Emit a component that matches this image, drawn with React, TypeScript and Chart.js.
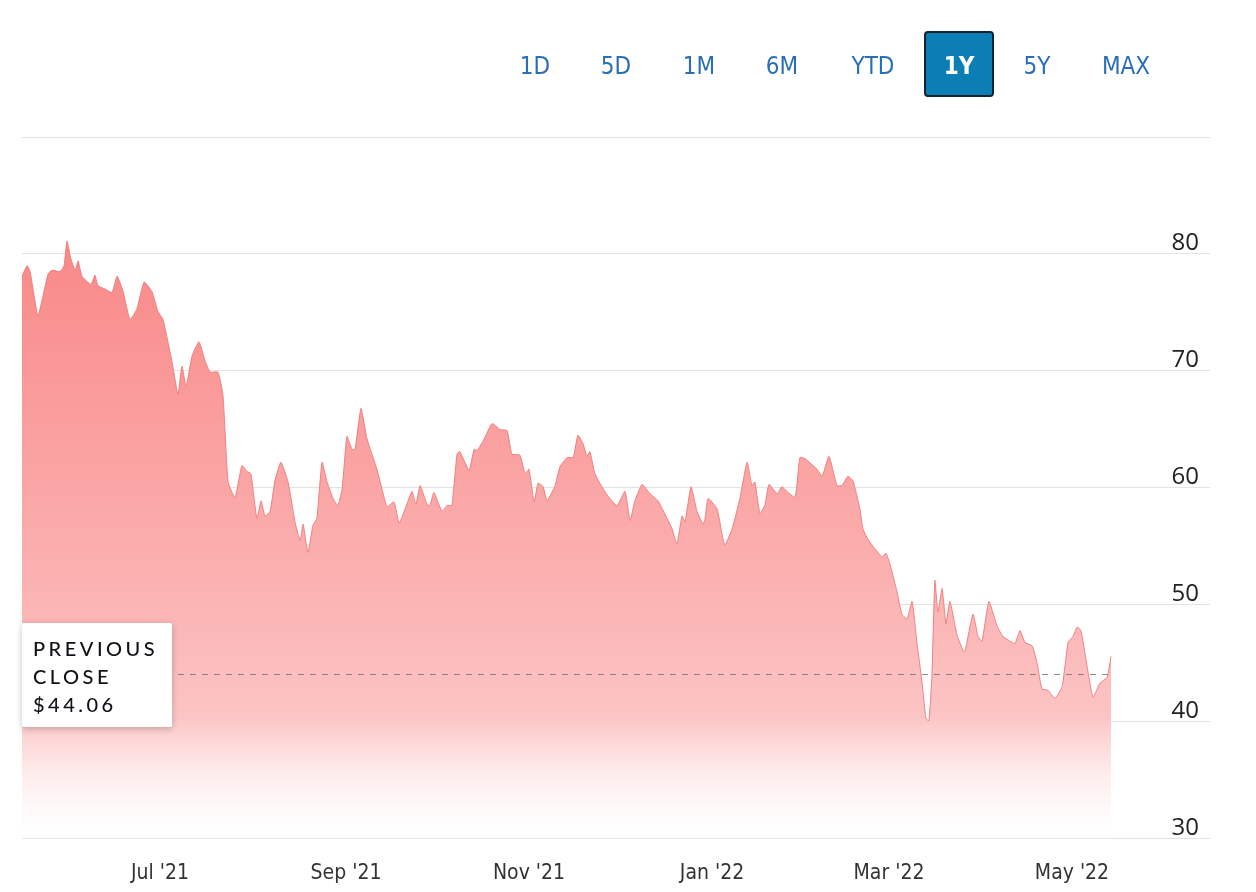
import React, { useEffect, useRef } from 'react';
import { Chart, registerables } from 'chart.js';

Chart.register(...registerables);

// Day offsets counted from 16 May 2021
const dayOffsets = [0,1.7,2.7,5.3,7,8.7,10,12.7,14,15,16.3,17.7,18.7,20,23,24.3,25.3,27.7,30,31.7,33.7,36,38.3,40.7,43.3,45.3,47,50,52,53.3,54.7,56.7,59,61,62.7,65.3,67,68.7,71,73.3,75,76.3,78.3,79.7,81,82.7,84.3,86.3,88.7,91,92.7,93.7,95.3,97,98.3,100,101.7,103.7,105.3,106.7,108.3,110,111,113,115,118.3,120,121.7,124,125.7,127.7,130,131.3,132.7,135,136,137.3,140,141.7,143.3,145,146,149,150.7,151.7,153.7,156.7,159.3,161.7,163.3,166,167.7,169,170.7,172,173.7,175,177.7,179.3,181.7,183.7,185.3,187,188.3,189.3,191,193.3,195.3,198.3,201,202.7,204.3,206.7,209.3,212,215,216.7,218.3,220,221,223,225,227,227.7,228.7,231.7,233.3,234.3,236.7,239.3,241.7,243.3,244.3,246,247.7,249,251.7,253.3,255,257.7,259.3,261,265,266.7,269,271.7,273.3,275.3,277,279.3,280.3,282,283.7,286.7,288,289.3,291.7,293.3,295,296.7,298.3,300,301.3,302.3,303.3,304.3,305.3,306.7,308,309.3,311.7,313.7,314.3,317,318.7,320,322.3,325,327,329.3,331,332.7,334.3,336.7,338.3,340,342,344.3,346.7,348.7,350.3,351.7,353,355,357,359.3,361.7,363];

const prices = [78.1,79.0,78.5,74.7,76.4,78.3,78.6,78.5,79.0,81.1,79.6,78.6,79.4,78.1,77.4,78.2,77.3,77.0,76.7,78.1,76.8,74.4,75.3,77.6,76.8,75.1,74.4,70.8,68.0,70.4,68.7,71.3,72.5,70.9,69.9,69.9,67.9,60.5,59.2,61.9,61.4,61.2,57.4,58.9,57.6,58.0,60.6,62.2,60.5,57.1,55.5,56.9,54.5,56.8,57.4,62.2,60.5,59.1,58.5,59.9,64.4,63.3,63.3,66.8,64.2,61.6,59.9,58.4,58.8,57.0,58.2,59.7,58.6,60.2,58.6,58.5,59.6,58.0,58.5,58.5,62.9,63.1,61.5,63.3,63.2,64.0,65.5,65.0,64.9,62.9,62.8,61.2,61.6,58.8,60.4,60.1,58.9,60.2,61.8,62.6,62.6,64.5,63.8,62.7,63.1,61.2,60.1,59.3,58.5,59.7,57.2,58.9,60.3,59.5,58.9,57.4,56.5,55.2,57.6,57.1,60.1,58.0,56.9,57.4,59.1,58.2,56.1,55.1,56.5,59.1,62.2,60.2,60.5,57.8,58.6,60.3,59.5,60.1,59.7,59.2,62.6,62.5,61.6,61.0,62.7,60.2,60.2,61.0,60.6,58.2,56.5,55.6,55.0,54.1,54.4,53.5,51.1,49.2,48.8,50.3,46.8,43.4,40.3,40.1,43.9,52.1,49.4,51.4,48.4,50.3,47.4,46.1,46.0,49.2,47.3,46.9,50.3,48.2,47.3,46.9,46.7,47.8,46.8,46.5,45.1,42.8,42.7,42.0,43.0,46.8,47.3,48.1,47.8,44.8,42.1,43.3,43.8,45.6];

const monthTickDays = [46, 108, 169, 230, 289, 350];
const monthTickLabels = ["Jul '21", "Sep '21", "Nov '21", "Jan '22", "Mar '22", "May '22"];
const yTickValues = [30, 40, 50, 60, 70, 80, 90];
const yTickLabels = ['30', '40', '50', '60', '70', '80', ''];
const previousClose = 44.06;
const previousCloseLines = ['PREVIOUS', 'CLOSE', '$44.06'];
const rangeButtons = ['1D', '5D', '1M', '6M', 'YTD', '1Y', '5Y', 'MAX'];
const activeRange = '1Y';

const buttonCenters = [535, 616, 699, 782, 873, 959, 1037, 1126];
const narrowFont = "'Liberation Sans Narrow', 'DejaVu Sans Condensed', 'DejaVu Sans', sans-serif";

export default function App() {
  const canvasRef = useRef<HTMLCanvasElement | null>(null);

  useEffect(() => {
    document.body.style.margin = '0';
    document.body.style.background = '#ffffff';
    const canvas = canvasRef.current;
    if (!canvas) return;
    const n = Math.min(dayOffsets.length, prices.length);
    const points = [];
    for (let i = 0; i < n; i++) points.push({ x: dayOffsets[i], y: prices[i] });

    const prevClosePlugin = {
      id: 'prevCloseLine',
      afterDatasetsDraw(chart: any) {
        const { ctx, chartArea, scales } = chart;
        const y = scales.y.getPixelForValue(previousClose);
        const xEnd = scales.x.getPixelForValue(dayOffsets[n - 1]);
        ctx.save();
        ctx.setLineDash([6, 6]);
        ctx.strokeStyle = 'rgba(110,110,110,0.8)';
        ctx.lineWidth = 1;
        ctx.beginPath();
        ctx.moveTo(chartArea.left, Math.round(y) + 0.5);
        ctx.lineTo(xEnd, Math.round(y) + 0.5);
        ctx.stroke();
        ctx.restore();
      },
    };

    const chart = new Chart(canvas, {
      type: 'line',
      data: {
        datasets: [
          {
            data: points,
            fill: 'start',
            borderColor: 'rgba(238,120,120,0.9)',
            borderWidth: 1,
            pointRadius: 0,
            tension: 0.15,
            backgroundColor: (context: any) => {
              const { chart } = context;
              const { ctx, chartArea, scales } = chart;
              if (!chartArea) return 'rgba(250,140,140,0.9)';
              const top = scales.y.getPixelForValue(82);
              const g = ctx.createLinearGradient(0, top, 0, chartArea.bottom);
              g.addColorStop(0, 'rgba(249,135,135,1)');
              g.addColorStop(0.55, 'rgba(251,175,175,1)');
              g.addColorStop(0.8, 'rgba(252,196,196,1)');
              g.addColorStop(1, 'rgba(255,255,255,0.2)');
              return g;
            },
          },
        ],
      },
      options: {
        animation: false,
        responsive: false,
        maintainAspectRatio: false,
        layout: { padding: { left: 22, top: 137, right: 46, bottom: -16 } },
        plugins: { legend: { display: false }, tooltip: { enabled: false } },
        scales: {
          x: {
            type: 'linear',
            min: 0,
            max: 396,
            grid: { display: false, drawTicks: false },
            border: { display: false },
            afterBuildTicks: (axis: any) => {
              axis.ticks = monthTickDays.map((v) => ({ value: v }));
            },
            ticks: {
              autoSkip: false,
              maxRotation: 0,
              padding: 22,
              color: '#333333',
              font: { family: narrowFont, size: 21 },
              callback: (value: any) => {
                const idx = monthTickDays.indexOf(Number(value));
                return idx >= 0 ? monthTickLabels[idx] : '';
              },
            },
          },
          y: {
            position: 'right',
            min: 30,
            max: 90,
            z: 1,
            grid: { color: 'rgba(0,0,0,0.11)', lineWidth: 1, drawTicks: false },
            border: { display: false },
            afterBuildTicks: (axis: any) => {
              axis.ticks = yTickValues.map((v) => ({ value: v }));
            },
            ticks: {
              mirror: true,
              padding: -11,
              labelOffset: -11,
              color: '#222222',
              font: { family: "'Open Sans', 'Noto Sans'", size: 24 },
              callback: (value: any) => {
                const idx = yTickValues.indexOf(Number(value));
                return idx >= 0 ? yTickLabels[idx] : '';
              },
            },
          },
        },
      },
      plugins: [prevClosePlugin],
    } as any);

    return () => chart.destroy();
  }, []);

  return (
    <div style={{ position: 'relative', width: 1256, height: 892, background: '#fff', overflow: 'hidden' }}>
      <canvas ref={canvasRef} width={1256} height={892} style={{ position: 'absolute', left: 0, top: 0, width: 1256, height: 892 }} />
      {rangeButtons.map((label, i) => {
        const active = label === activeRange;
        return (
          <div
            key={label}
            style={{
              position: 'absolute',
              left: buttonCenters[i] - 35,
              top: 31,
              width: 70,
              height: 66,
              boxSizing: 'border-box',
              display: 'flex',
              alignItems: 'center',
              justifyContent: 'center',
              paddingTop: 3,
              fontFamily: narrowFont,
              fontSize: 24,
              fontWeight: active ? 700 : 400,
              color: active ? '#ffffff' : '#2a6fb3',
              background: active ? '#0b7fb5' : 'transparent',
              border: active ? '2px solid #16222e' : 'none',
              borderRadius: 4,
            }}
          >
            {label}
          </div>
        );
      })}
      <div
        style={{
          position: 'absolute',
          left: 22,
          top: 623,
          width: 150,
          height: 104,
          boxSizing: 'border-box',
          background: '#ffffff',
          borderRadius: 2,
          boxShadow: '0 2px 7px rgba(0,0,0,0.22)',
          padding: '11px 0 0 11px',
          fontFamily: "Lato, 'Open Sans', sans-serif",
          fontSize: 20,
          fontWeight: 500,
          lineHeight: '28px',
          letterSpacing: 3.5,
          color: '#111118',
        }}
      >
        {previousCloseLines.map((t) => (
          <div key={t}>{t}</div>
        ))}
      </div>
    </div>
  );
}
